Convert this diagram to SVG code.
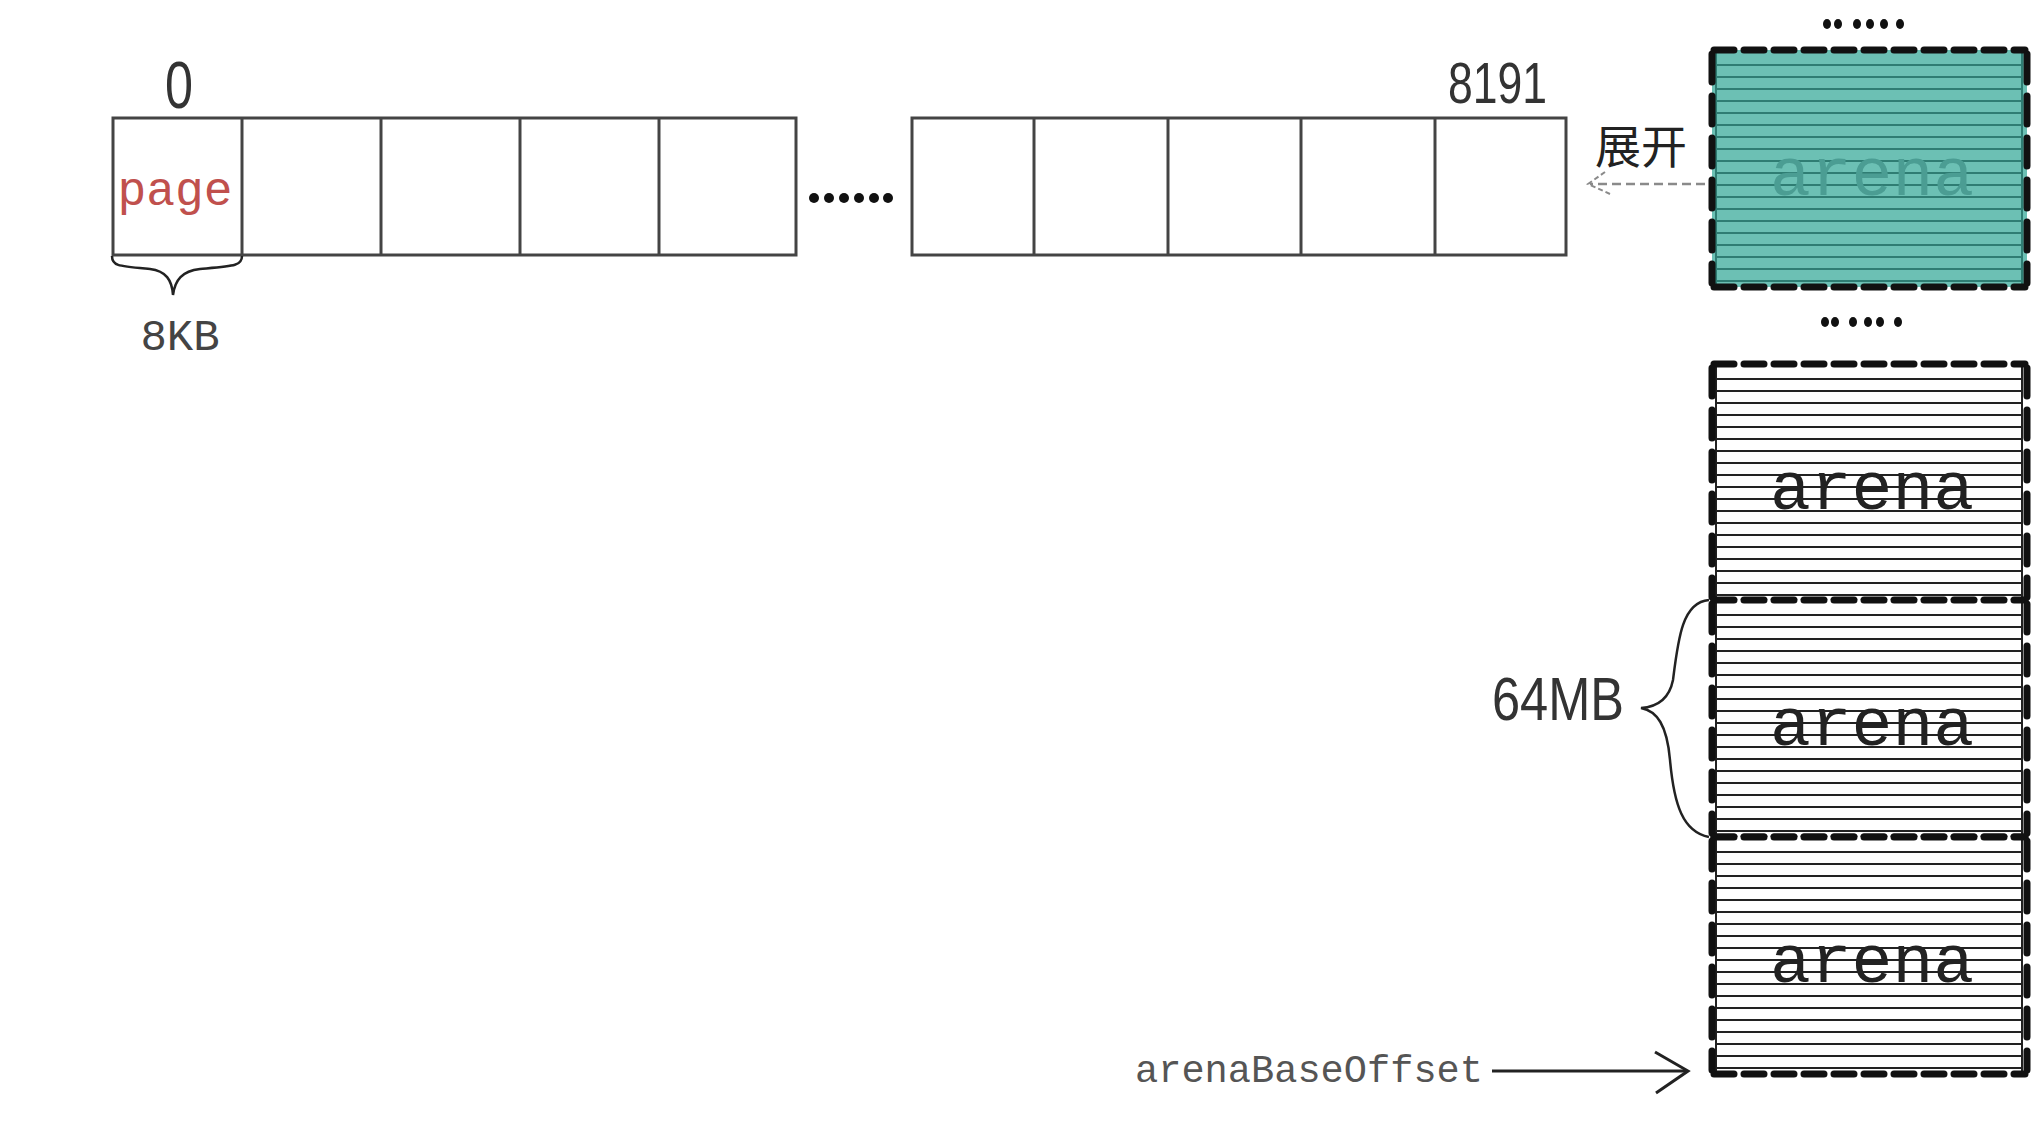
<svg xmlns="http://www.w3.org/2000/svg" xmlns:xlink="http://www.w3.org/1999/xlink" width="2044" height="1126" viewBox="0 0 2044 1126">
<style>
.cell{fill:none;stroke:#444;stroke-width:3}
.num{font-family:"Liberation Sans Narrow","Liberation Sans",sans-serif;fill:#333}
.mono{font-family:"Liberation Mono","Courier New",monospace}
.dot{fill:#111}
.stripe-w{stroke:#222;stroke-width:2}
.stripe-t{stroke:#2f7d73;stroke-width:2}
.hd{fill:none;stroke:#111;stroke-width:7;stroke-dasharray:20 10;stroke-linecap:round}
.vd{fill:none;stroke:#111;stroke-width:7;stroke-dasharray:28 14;stroke-linecap:round}
.arena-txt{font-family:"Liberation Mono","Courier New",monospace;font-size:68px;text-anchor:middle}
.brace{fill:none;stroke:#222;stroke-width:2.5}
</style>
<defs>
<g id="stripes">
<line x1="4" y1="15" x2="310" y2="15"/><line x1="4" y1="27" x2="310" y2="27"/><line x1="4" y1="39" x2="310" y2="39"/>
<line x1="4" y1="51" x2="310" y2="51"/><line x1="4" y1="63" x2="310" y2="63"/><line x1="4" y1="75" x2="310" y2="75"/>
<line x1="4" y1="87" x2="310" y2="87"/><line x1="4" y1="99" x2="310" y2="99"/><line x1="4" y1="111" x2="310" y2="111"/>
<line x1="4" y1="123" x2="310" y2="123"/><line x1="4" y1="135" x2="310" y2="135"/><line x1="4" y1="147" x2="310" y2="147"/>
<line x1="4" y1="159" x2="310" y2="159"/><line x1="4" y1="171" x2="310" y2="171"/><line x1="4" y1="183" x2="310" y2="183"/>
<line x1="4" y1="195" x2="310" y2="195"/><line x1="4" y1="207" x2="310" y2="207"/><line x1="4" y1="219" x2="310" y2="219"/>
<line x1="4" y1="231" x2="310" y2="231"/>
<line x1="4" y1="0" x2="4" y2="237"/><line x1="310" y1="0" x2="310" y2="237"/>
</g>
<g id="border">
<line class="hd" x1="2" y1="0" x2="313" y2="0"/>
<line class="hd" x1="2" y1="237" x2="313" y2="237"/>
<line class="vd" x1="0" y1="4" x2="0" y2="233"/>
<line class="vd" x1="315" y1="4" x2="315" y2="233"/>
</g>
</defs>
<rect width="2044" height="1126" fill="#fff"/>

<g id="pages-left">
<rect class="cell" x="113" y="118" width="683" height="137"/>
<line class="cell" x1="242" y1="118" x2="242" y2="255"/>
<line class="cell" x1="381" y1="118" x2="381" y2="255"/>
<line class="cell" x1="520" y1="118" x2="520" y2="255"/>
<line class="cell" x1="659" y1="118" x2="659" y2="255"/>
<text class="mono" x="175" y="205" font-size="48" fill="#c0504d" text-anchor="middle">page</text>
</g>
<g id="label-0"><text class="num" x="165" y="108" font-size="66" textLength="28" lengthAdjust="spacingAndGlyphs">0</text></g>
<g id="brace-8kb">
<path class="brace" d="M112,256 C112,266 118,266 150,269 C166,271 172,280 173,295 C175,280 182,271 200,269 C234,266 242,266 242,256"/>
<text class="mono" x="180" y="350" font-size="44" fill="#444" text-anchor="middle">8KB</text>
</g>
<g id="ellipsis-mid">
<circle class="dot" cx="814" cy="198" r="5"/><circle class="dot" cx="829" cy="198" r="5"/><circle class="dot" cx="844" cy="198" r="5"/>
<circle class="dot" cx="859" cy="198" r="5"/><circle class="dot" cx="874" cy="198" r="5"/><circle class="dot" cx="888" cy="198" r="5"/>
</g>
<g id="pages-right">
<rect class="cell" x="912" y="118" width="654" height="137"/>
<line class="cell" x1="1034" y1="118" x2="1034" y2="255"/>
<line class="cell" x1="1168" y1="118" x2="1168" y2="255"/>
<line class="cell" x1="1301" y1="118" x2="1301" y2="255"/>
<line class="cell" x1="1435" y1="118" x2="1435" y2="255"/>
</g>
<g id="label-8191"><text class="num" x="1448" y="103" font-size="58" textLength="99" lengthAdjust="spacingAndGlyphs">8191</text></g>
<g id="label-expand"><text x="1641" y="163" font-family="'Noto Sans CJK SC','Noto Sans CJK JP',sans-serif" font-size="46" fill="#222" text-anchor="middle">展开</text></g>

<g id="ellipsis-top">
<ellipse class="dot" cx="1827" cy="24" rx="4" ry="5"/><ellipse class="dot" cx="1838" cy="24" rx="4" ry="5"/><ellipse class="dot" cx="1857" cy="24" rx="4" ry="5"/>
<ellipse class="dot" cx="1870" cy="24" rx="4" ry="5"/><ellipse class="dot" cx="1884" cy="24" rx="4" ry="5"/><ellipse class="dot" cx="1900" cy="24" rx="4" ry="5"/>
</g>
<g id="arena-teal" transform="translate(1712,50)">
<rect x="0" y="0" width="315" height="237" fill="#6cc0b4"/>
<use xlink:href="#stripes" class="stripe-t"/>
<text class="arena-txt" x="160" y="145" fill="#4b9d93">arena</text>
<use xlink:href="#border"/>
</g>
<g id="ellipsis-lower">
<ellipse class="dot" cx="1825" cy="322" rx="4" ry="5"/><ellipse class="dot" cx="1835" cy="322" rx="4" ry="5"/><ellipse class="dot" cx="1853" cy="322" rx="4" ry="5"/>
<ellipse class="dot" cx="1868" cy="322" rx="4" ry="5"/><ellipse class="dot" cx="1880" cy="322" rx="4" ry="5"/><ellipse class="dot" cx="1898" cy="322" rx="4" ry="5"/>
</g>
<g id="arena-1" transform="translate(1712,364)">
<rect x="0" y="0" width="315" height="237" fill="#fff"/>
<use xlink:href="#stripes" class="stripe-w"/>
<text class="arena-txt" x="160" y="145" fill="#222">arena</text>
<use xlink:href="#border"/>
</g>
<g id="arena-2" transform="translate(1712,600)">
<rect x="0" y="0" width="315" height="237" fill="#fff"/>
<use xlink:href="#stripes" class="stripe-w"/>
<text class="arena-txt" x="160" y="145" fill="#222">arena</text>
<use xlink:href="#border"/>
</g>
<g id="arena-3" transform="translate(1712,837)">
<rect x="0" y="0" width="315" height="237" fill="#fff"/>
<use xlink:href="#stripes" class="stripe-w"/>
<text class="arena-txt" x="160" y="145" fill="#222">arena</text>
<use xlink:href="#border"/>
</g>
<g id="brace-64mb">
<path class="brace" d="M1709,600 C1682,602 1678,640 1673,680 C1669,700 1656,707 1641,708 C1657,711 1667,725 1670,760 C1674,805 1683,832 1709,837"/>
<text class="num" x="1492" y="720" font-size="62" textLength="132" lengthAdjust="spacingAndGlyphs">64MB</text>
</g>
<g id="label-base"><text class="mono" x="1135" y="1082" font-size="38" fill="#555" textLength="348" lengthAdjust="spacingAndGlyphs">arenaBaseOffset</text></g>

<g id="connectors">
<line x1="1705" y1="184" x2="1590" y2="184" stroke="#8a8a8a" stroke-width="2.5" stroke-dasharray="9 5"/>
<path d="M1605,172 L1588,184 L1610,194" fill="none" stroke="#8a8a8a" stroke-width="2" stroke-dasharray="5 3"/>
<line x1="1492" y1="1071" x2="1686" y2="1071" stroke="#222" stroke-width="3"/>
<path d="M1655,1052 L1688,1071 L1656,1093" fill="none" stroke="#222" stroke-width="3"/>
</g>
</svg>
